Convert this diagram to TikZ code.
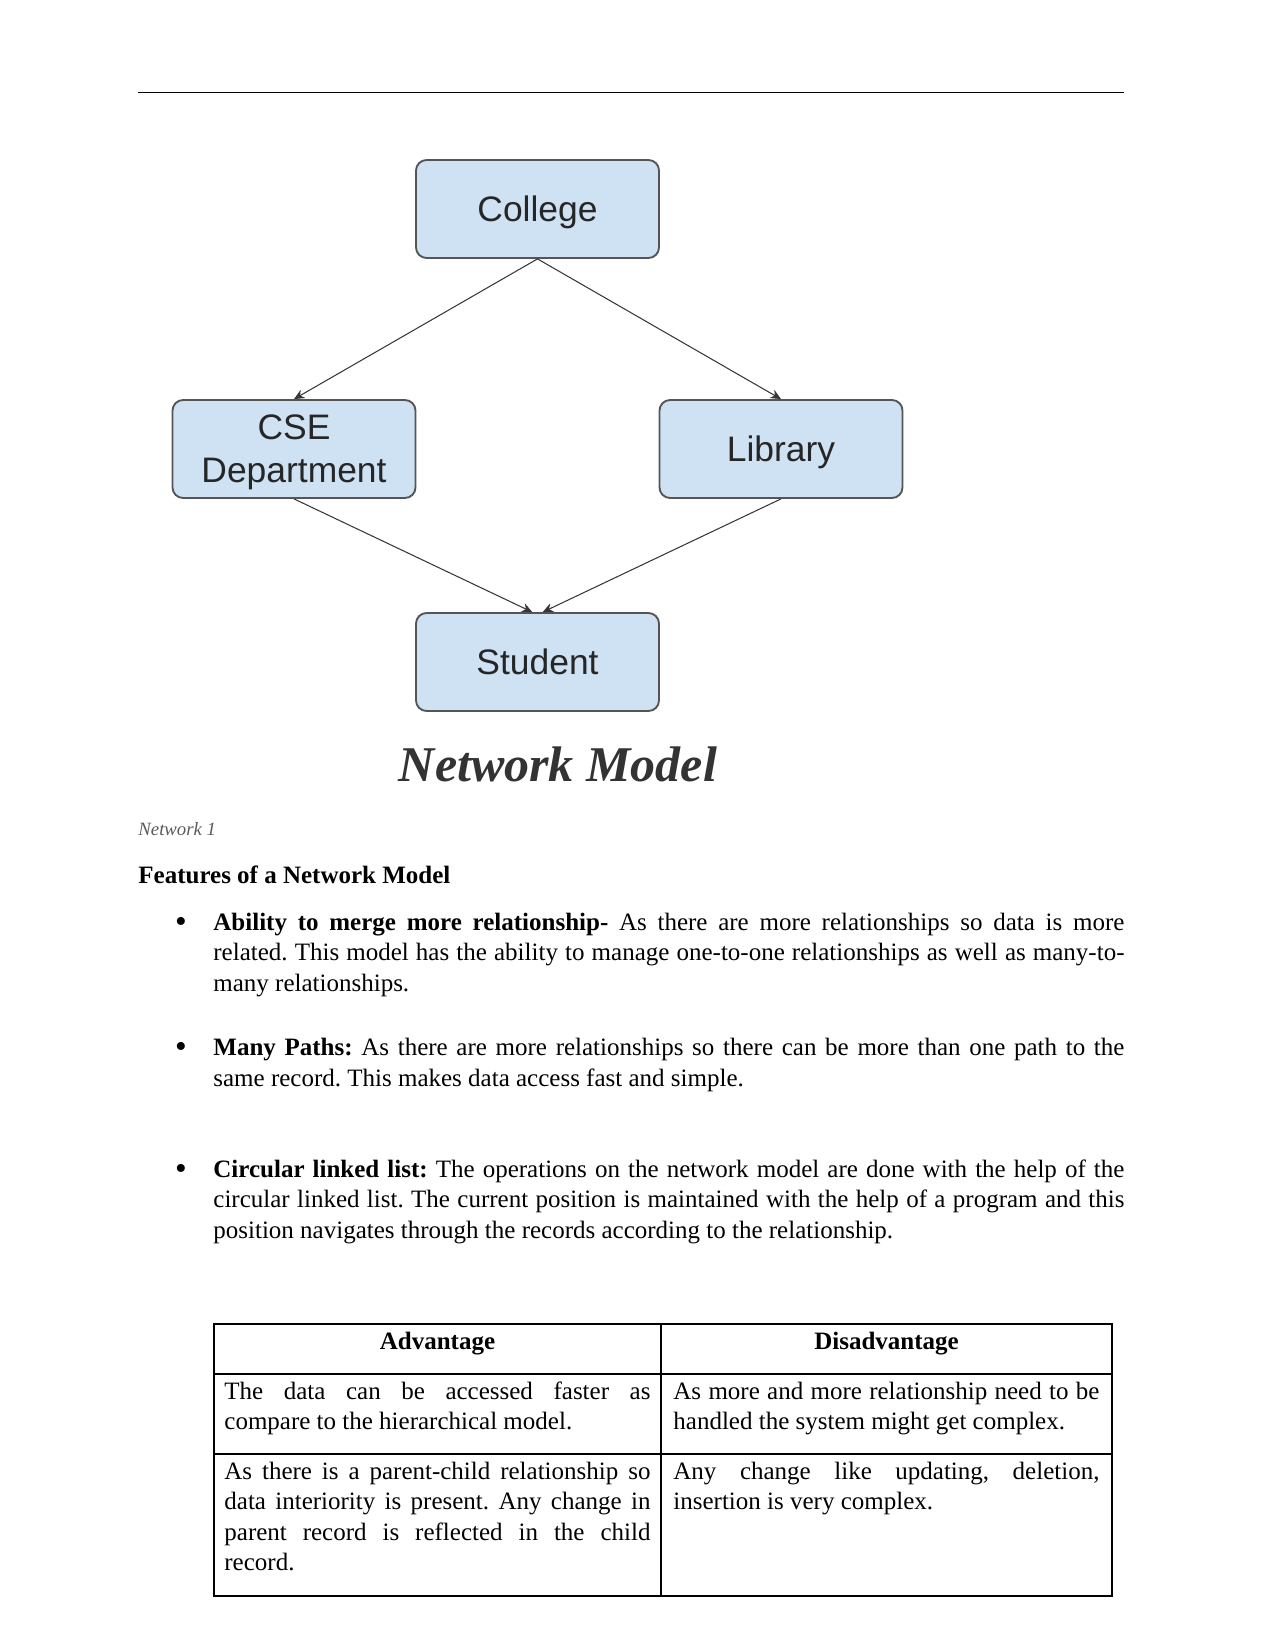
\documentclass[tikz,border=0pt]{standalone}
\usepackage{fontspec}
\setmainfont{Liberation Serif}
\newfontfamily\boxfont{Liberation Sans}
\usetikzlibrary{arrows.meta}
\definecolor{boxblue}{RGB}{207,226,243}
\definecolor{boxline}{RGB}{85,85,85}
\definecolor{linkgray}{RGB}{55,55,55}
\definecolor{capgray}{RGB}{90,90,90}
\hyphenpenalty=10000
\frenchspacing
\begin{document}
\begin{tikzpicture}[x=0.48pt,y=-0.48pt,
  netbox/.style={draw=boxline,line width=0.9pt,fill=boxblue,rounded corners=5pt,
    minimum width=116.6pt,minimum height=47pt,align=center,text=black!85,
    font=\boxfont\fontsize{17}{20.7}\selectfont},
  lowtext/.style={text height=15.3pt},
  link/.style={draw=linkgray,line width=0.5pt,-{Stealth[length=5pt,width=4.5pt]}},
  body/.style={anchor=base west,inner sep=0pt,text width=437.3pt,align=justify,
    font=\fontsize{12}{14.64}\selectfont},
  cell/.style={anchor=base west,inner sep=0pt,text width=204.5pt,align=justify,
    font=\fontsize{12}{14.64}\selectfont},
  dot/.style={anchor=base,inner sep=0pt,font=\fontsize{16}{16}\selectfont}]
\fill[white] (0,0) rectangle (1275,1651);
\useasboundingbox (0,0) rectangle (1275,1651);

\draw[line width=0.6pt] (138,92.6) -- (1124,92.6);

\node[netbox,lowtext] (college) at (537.5,209) {College};
\node[netbox] (cse) at (294,449) {\rule{0pt}{15.2pt}CSE\\Department};
\node[netbox,lowtext] (library) at (781,449) {Library};
\node[netbox] (student) at (537.5,662) {Student};

\draw[link] (college.south) -- (cse.north);
\draw[link] (college.south) -- (library.north);
\draw[link] (cse.south) -- ([xshift=-2.5pt]student.north);
\draw[link] (library.south) -- ([xshift=2.5pt]student.north);

\node[anchor=base,inner sep=0pt,text=black!80,font=\fontsize{24}{28}\selectfont\bfseries\itshape]
  (title) at (558,781) {Network Model};

\node[anchor=base west,inner sep=0pt,text=capgray,font=\fontsize{9}{11}\selectfont\itshape]
  (caption) at (138,835) {Network 1};
\node[anchor=base west,inner sep=0pt,font=\fontsize{12}{14.64}\selectfont\bfseries]
  (features) at (138,883) {Features of a Network Model};

\node[dot] (dot1) at (181,932) {\textbullet};
\node[body] (item1) at (213,930) {\textbf{Ability to merge more relationship-} As there are more
  relationships so data is more\linebreak related. This model has the ability to manage
  one-to-one relationships as well as many-to-\linebreak many relationships.};
\node[dot] (dot2) at (181,1057.5) {\textbullet};
\node[body] (item2) at (213,1055.5) {\textbf{Many Paths:} As there are more relationships so
  there can be more than one path to the\linebreak same record. This makes data access fast
  and simple.};
\node[dot] (dot3) at (181,1179) {\textbullet};
\node[body] (item3) at (213,1177) {\textbf{Circular linked list:} The operations on the network
  model are done with the help of the\linebreak circular linked list. The current position is
  maintained with the help of a program and this\linebreak position navigates through the
  records according to the relationship.};

\draw[line width=0.6pt] (214,1324) rectangle (1112,1596);
\draw[line width=0.6pt] (661,1324) -- (661,1596);
\draw[line width=0.6pt] (214,1374) -- (1112,1374);
\draw[line width=0.6pt] (214,1454) -- (1112,1454);

\node[anchor=base,inner sep=0pt,font=\fontsize{12}{14.64}\selectfont\bfseries]
  (advhead) at (437.5,1349) {Advantage};
\node[anchor=base,inner sep=0pt,font=\fontsize{12}{14.64}\selectfont\bfseries]
  (dishead) at (886.5,1349) {Disadvantage};
\node[cell] (adv1) at (224,1399) {The data can be accessed faster as\linebreak compare to
  the hierarchical model.};
\node[cell] (dis1) at (673,1399) {As more and more relationship need to be\linebreak handled
  the system might get complex.};
\node[cell] (adv2) at (224,1479) {As there is a parent-child relationship so\linebreak data
  interiority is present. Any change in\linebreak parent record is reflected in the
  child\linebreak record.};
\node[cell] (dis2) at (673,1479) {Any change like updating, deletion,\linebreak insertion is
  very complex.};
\end{tikzpicture}
\end{document}
